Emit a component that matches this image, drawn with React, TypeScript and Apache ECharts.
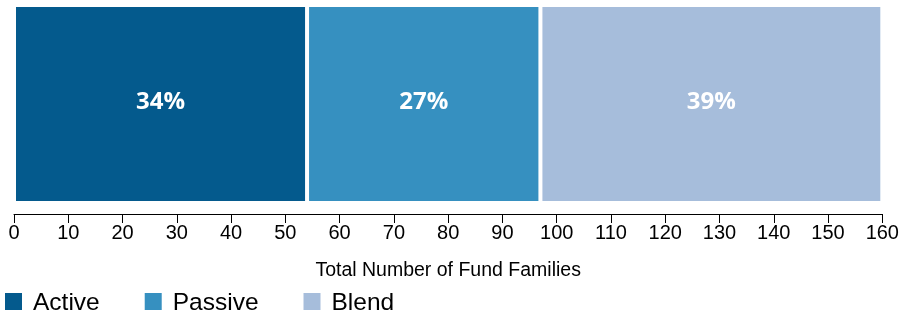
import React, { useEffect, useRef } from "react";
import * as echarts from "echarts";

const categories = ["Fund Families"];
const seriesNames = ["Active", "Passive", "Blend"];
const activeValues = [54];
const passiveValues = [43];
const blendValues = [63];
const seriesColors = ["#045a8d", "#3690c0", "#a6bddb"];
const axisMin = 0;
const axisMax = 160;
const axisInterval = 10;
const axisTitle = "Total Number of Fund Families";

export default function App() {
  const ref = useRef<HTMLDivElement>(null);
  useEffect(() => {
    if (!ref.current) return;
    const chart = echarts.init(ref.current, null, { renderer: "svg", width: 902, height: 315 });
    const allValues = [activeValues, passiveValues, blendValues];
    const total = allValues.reduce((s, arr) => s + arr[0], 0);
    chart.setOption({
      animation: false,
      grid: { left: 14, width: 871, top: 5, height: 198, containLabel: false },
      legend: {
        data: seriesNames,
        left: 3,
        top: 289,
        padding: 0,
        itemWidth: 19,
        itemHeight: 19,
        itemGap: 43,
        icon: "rect",
        textStyle: {
          fontFamily: "Liberation Sans",
          fontSize: 24.5,
          color: "#000",
          padding: [0, 0, 0, 5],
        },
      },
      xAxis: {
        type: "value",
        min: axisMin,
        max: axisMax,
        interval: axisInterval,
        offset: 11,
        name: axisTitle,
        nameLocation: "middle",
        nameGap: 45,
        nameTextStyle: { fontFamily: "Liberation Sans", fontSize: 19.5, color: "#000" },
        axisLine: { show: true, lineStyle: { color: "#000", width: 1 } },
        axisTick: { show: true, length: 9, lineStyle: { color: "#000" } },
        axisLabel: { fontFamily: "Liberation Sans", fontSize: 20, color: "#000", margin: 8 },
        splitLine: { show: false },
      },
      yAxis: {
        type: "category",
        data: categories,
        show: false,
      },
      series: seriesNames.map((name, i) => ({
        name,
        type: "bar",
        stack: "total",
        data: allValues[i],
        barWidth: "100%",
        itemStyle: { color: seriesColors[i], borderColor: "#fff", borderWidth: 2 },
        label: {
          show: true,
          position: "inside",
          color: "#fff",
          fontFamily: "Open Sans",
          fontWeight: "bold",
          fontSize: 24,
          offset: [0, -5],
          formatter: (p: any) => Math.round((p.value / total) * 100) + "%",
        },
      })),
    });
    return () => chart.dispose();
  }, []);
  return (
    <div
      ref={ref}
      style={{ position: "fixed", left: 0, top: 0, width: 902, height: 315 }}
    />
  );
}
